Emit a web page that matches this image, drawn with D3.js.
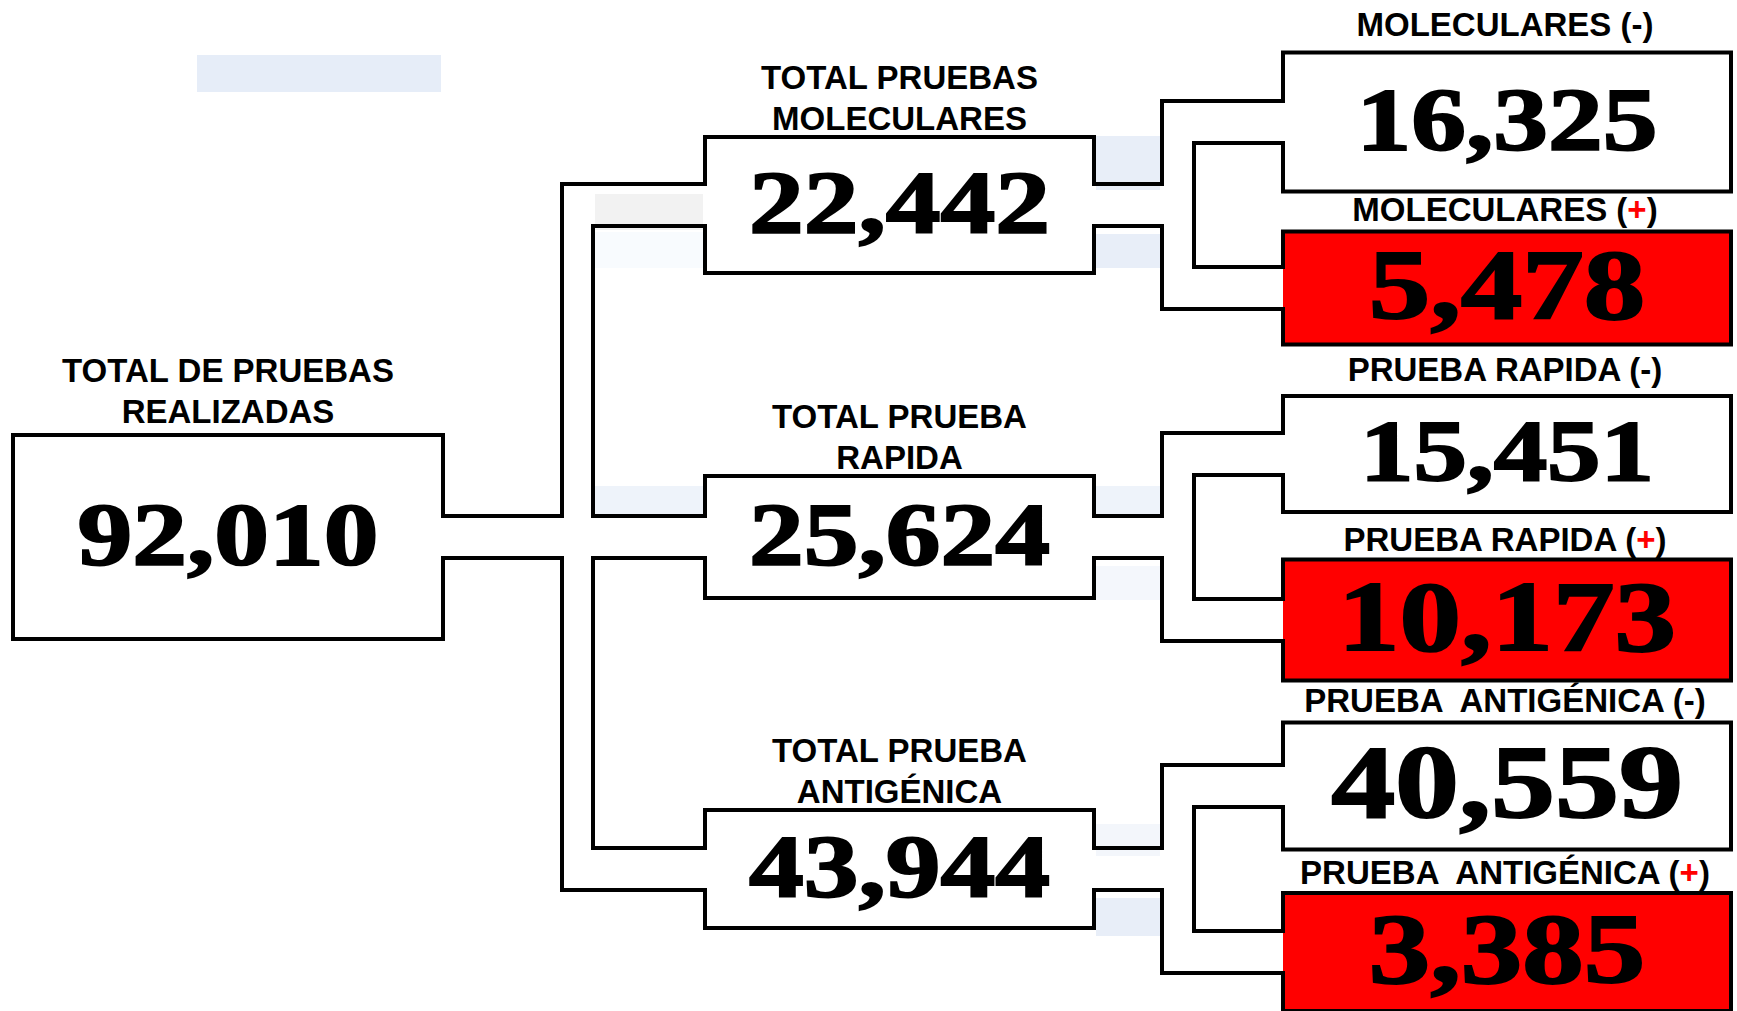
<!DOCTYPE html>
<meta charset="utf-8">
<style>
body { margin: 0; background: #fff; }
.lbl { font: bold 33px "Liberation Sans", Arial, sans-serif; fill: #000; text-anchor: middle; white-space: pre; }
.num { font-family: "Liberation Serif", "Times New Roman", serif; font-weight: bold; fill: #000; stroke: #000; stroke-width: 2px; text-anchor: middle; }
.edge, .pipe { fill: none; stroke: #000; stroke-width: 4px; stroke-linecap: square; stroke-linejoin: miter; }
</style>
<body>
<script src="https://d3js.org/d3.v7.min.js"></script>
<script>

// data
var totalLabel = ["TOTAL DE PRUEBAS", "REALIZADAS"];
var totalValue = 92010;

var groupLabels = [["TOTAL PRUEBAS", "MOLECULARES"], ["TOTAL PRUEBA", "RAPIDA"], ["TOTAL PRUEBA", "ANTIGÉNICA"]];
var groupValues = [22442, 25624, 43944];

var resultLabels = ["MOLECULARES", "MOLECULARES", "PRUEBA RAPIDA", "PRUEBA RAPIDA", "PRUEBA  ANTIGÉNICA", "PRUEBA  ANTIGÉNICA"];
var resultSigns = ["-", "+", "-", "+", "-", "+"];
var resultValues = [16325, 5478, 15451, 10173, 40559, 3385];
var resultGroup = [0, 0, 1, 1, 2, 2];

// layout
var width = 1737, height = 1011;
var cols = [{x0: 13, x1: 443}, {x0: 705, x1: 1094}, {x0: 1283, x1: 1731}];
var pipeX = [{outer: 562, inner: 593}, {outer: 1162, inner: 1194}];
var leafH = [139, 113, 116, 121, 127, 118];
var leafFont = [89, 100, 87, 100, 104, 100];
var labelGap = [17, 11, 15, 9, 11, 9];
var groupH = [136, 122, 118];
var rootH = 204;
var numFont = 89;
var half = 21;
var red = "#ff0000";
var fmt = d3.format(",");

// faint background patches that sit behind the drawing
var patches = [
  {x: 197, y: 55, w: 244, h: 37, c: "#e6edf8"},
  {x: 1096, y: 136, w: 64, h: 54, c: "#e8eef8"},
  {x: 1096, y: 234, w: 64, h: 34, c: "#e8eef8"},
  {x: 595, y: 194, w: 108, h: 36, c: "#f2f2f2"},
  {x: 595, y: 232, w: 108, h: 36, c: "#f8fbfe"},
  {x: 595, y: 486, w: 108, h: 30, c: "#eef3fa"},
  {x: 1096, y: 486, w: 64, h: 30, c: "#eef3fa"},
  {x: 1096, y: 566, w: 64, h: 34, c: "#f4f7fc"},
  {x: 1096, y: 824, w: 64, h: 32, c: "#f3f6fb"},
  {x: 1096, y: 898, w: 64, h: 38, c: "#e8eef8"}
];

var y = d3.scalePoint()
    .domain(d3.range(resultValues.length))
    .range([122, 952]);

var leaves = resultValues.map(function(v, i) {
  return {value: v, label: resultLabels[i], sign: resultSigns[i], group: resultGroup[i],
    cy: y(i), h: leafH[i], x0: cols[2].x0, x1: cols[2].x1, gap: labelGap[i],
    fill: resultSigns[i] == "+" ? red : "#fff", font: leafFont[i], left: true, right: false};
});

var groups = groupValues.map(function(v, i) {
  var kids = leaves.filter(function(d) { return d.group == i; });
  return {value: v, lines: groupLabels[i], cy: d3.mean(kids, function(d) { return d.cy; }),
    h: groupH[i], x0: cols[1].x0, x1: cols[1].x1, fill: "#fff", font: numFont,
    kids: kids, left: true, right: true};
});

var root = {value: totalValue, lines: totalLabel, cy: d3.mean(groups, function(d) { return d.cy; }),
  h: rootH, x0: cols[0].x0, x1: cols[0].x1, fill: "#fff", font: numFont, kids: groups,
  left: false, right: true};

var nodes = [root].concat(groups, leaves);
nodes.forEach(function(d) { d.y0 = d.cy - d.h / 2; d.y1 = d.cy + d.h / 2; });

var svg = d3.select("body").append("svg")
    .attr("width", width)
    .attr("height", height);

svg.selectAll("rect.patch")
  .data(patches)
  .enter().append("rect")
    .attr("class", "patch")
    .attr("x", function(d) { return d.x; })
    .attr("y", function(d) { return d.y; })
    .attr("width", function(d) { return d.w; })
    .attr("height", function(d) { return d.h; })
    .attr("fill", function(d) { return d.c; });

// box fills
svg.selectAll("rect.box")
  .data(nodes)
  .enter().append("rect")
    .attr("class", "box")
    .attr("x", function(d) { return d.x0; })
    .attr("y", function(d) { return d.y0; })
    .attr("width", function(d) { return d.x1 - d.x0; })
    .attr("height", function(d) { return d.h; })
    .attr("fill", function(d) { return d.fill; });

// box outlines, open where the pipe goes in
function outline(d) {
  var p = d3.path();
  p.moveTo(d.x0, d.y0); p.lineTo(d.x1, d.y0);
  p.moveTo(d.x0, d.y1); p.lineTo(d.x1, d.y1);
  [[d.x0, d.left], [d.x1, d.right]].forEach(function(s) {
    if (s[1]) {
      p.moveTo(s[0], d.y0); p.lineTo(s[0], d.cy - half);
      p.moveTo(s[0], d.cy + half); p.lineTo(s[0], d.y1);
    } else {
      p.moveTo(s[0], d.y0); p.lineTo(s[0], d.y1);
    }
  });
  return p.toString();
}

svg.selectAll("path.edge")
  .data(nodes)
  .enter().append("path")
    .attr("class", "edge")
    .attr("d", outline);

// pipes
function pipes(parent, px) {
  var k = parent.kids, n = k.length, p = d3.path();
  p.moveTo(parent.x1, parent.cy - half);
  p.lineTo(px.outer, parent.cy - half);
  p.lineTo(px.outer, k[0].cy - half);
  p.lineTo(k[0].x0, k[0].cy - half);
  for (var i = 0; i < n - 1; i++) {
    p.moveTo(k[i].x0, k[i].cy + half);
    p.lineTo(px.inner, k[i].cy + half);
    p.lineTo(px.inner, k[i + 1].cy - half);
    p.lineTo(k[i + 1].x0, k[i + 1].cy - half);
  }
  p.moveTo(parent.x1, parent.cy + half);
  p.lineTo(px.outer, parent.cy + half);
  p.lineTo(px.outer, k[n - 1].cy + half);
  p.lineTo(k[n - 1].x0, k[n - 1].cy + half);
  return p.toString();
}

svg.append("path").attr("class", "pipe").attr("d", pipes(root, pipeX[0]));
groups.forEach(function(g) {
  svg.append("path").attr("class", "pipe").attr("d", pipes(g, pipeX[1]));
});

// titles
[root].concat(groups).forEach(function(d) {
  var t = svg.append("text").attr("class", "lbl");
  d.lines.forEach(function(line, i) {
    t.append("tspan")
      .attr("x", (d.x0 + d.x1) / 2)
      .attr("y", d.y0 - (d === root ? 12 : 7) - (d.lines.length - 1 - i) * 41)
      .text(line);
  });
});

var lt = svg.selectAll("text.leaf")
  .data(leaves)
  .enter().append("text")
    .attr("class", "lbl leaf")
    .attr("x", function(d) { return (d.x0 + d.x1) / 2 - 2; })
    .attr("y", function(d) { return d.y0 - d.gap; });
lt.append("tspan").text(function(d) { return d.label + " ("; });
lt.append("tspan")
    .attr("fill", function(d) { return d.sign == "+" ? red : "#000"; })
    .text(function(d) { return d.sign; });
lt.append("tspan").text(")");

// numbers
svg.selectAll("text.num")
  .data(nodes)
  .enter().append("text")
    .attr("class", "num")
    .attr("transform", function(d) {
      return "translate(" + ((d.x0 + d.x1) / 2) + "," + (d.cy + d.font * 0.3) + ") scale(1.23,1)";
    })
    .style("font-size", function(d) { return d.font + "px"; })
    .text(function(d) { return fmt(d.value); });

</script>
</body>
